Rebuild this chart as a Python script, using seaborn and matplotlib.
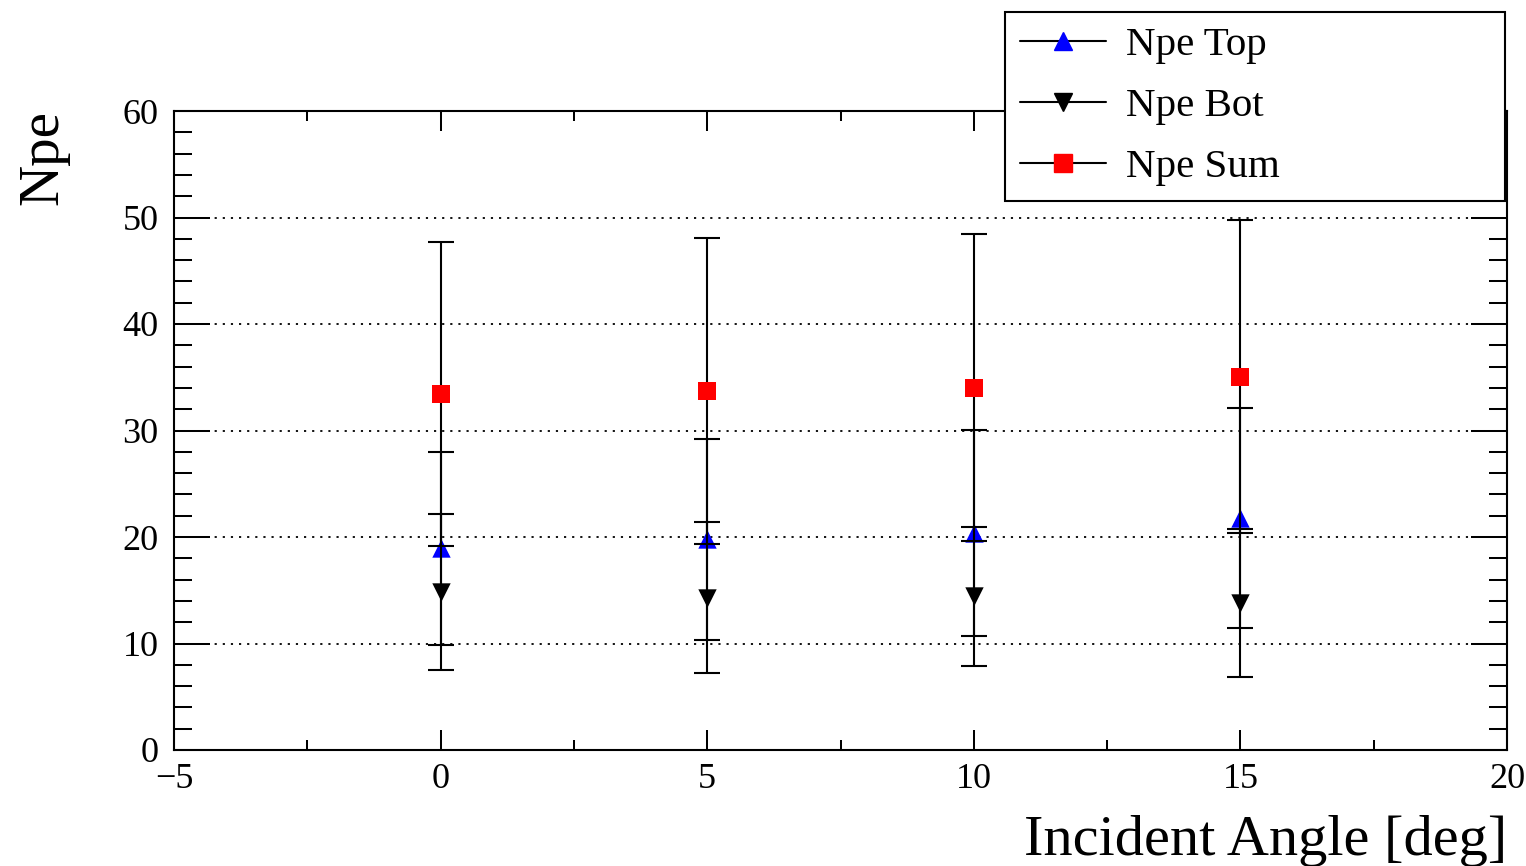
import numpy as np
import pandas as pd
import matplotlib
matplotlib.use("Agg")
import matplotlib.pyplot as plt
import seaborn as sns
from matplotlib.lines import Line2D
from matplotlib.ticker import MultipleLocator

# ---- data ----
angle = [0, 5, 10, 15]
npe_top = [18.93, 19.77, 20.39, 21.79]
npe_top_err = [9.07, 9.43, 9.66, 10.30]
npe_bot = [14.84, 14.31, 14.42, 13.80]
npe_bot_err = [7.33, 7.11, 6.50, 6.92]
npe_sum = [33.43, 33.71, 34.02, 35.06]
npe_sum_err = [14.25, 14.34, 14.40, 14.72]
series_names = ["Npe Top", "Npe Bot", "Npe Sum"]
x_ticks = [-5, 0, 5, 10, 15, 20]
x_tick_labels = ["\u22125", "0", "5", "10", "15", "20"]
y_ticks = [0, 10, 20, 30, 40, 50, 60]
y_tick_labels = ["0", "10", "20", "30", "40", "50", "60"]

sns.set_theme(style="ticks")
plt.rcParams["font.family"] = ["Liberation Serif", "DejaVu Serif"]
plt.rcParams["mathtext.fontset"] = "stix"
for k in ["text.color", "axes.labelcolor", "xtick.color", "ytick.color", "axes.edgecolor"]:
    plt.rcParams[k] = "black"

TICK_FS = 26

W, H = 1526, 866
fig = plt.figure(figsize=(W / 100, H / 100), dpi=100)
fig.patch.set_facecolor("white")
ax = fig.add_axes([174 / W, 1 - 750 / H, (1507 - 174) / W, (750 - 111) / H])
ax.set_facecolor("white")

series = [
    (series_names[0], npe_top, npe_top_err, "^", "#0000ff", 175),
    (series_names[1], npe_bot, npe_bot_err, "v", "black", 175),
    (series_names[2], npe_sum, npe_sum_err, "s", "#ff0000", 180),
]

lw = 1.5
z = 3
for name, vals, errs, mk, col, s in series:
    ax.errorbar(angle, vals, yerr=errs, fmt="none", ecolor="black",
                elinewidth=lw, capsize=9.7, capthick=lw, zorder=z)
    df = pd.DataFrame({"angle": angle, "npe": vals})
    sns.scatterplot(data=df, x="angle", y="npe", marker=mk, color=col,
                    s=s, linewidth=0, ax=ax, zorder=z + 0.5, legend=False)
    z += 1

ax.set_xlim(-5, 20)
ax.set_ylim(0, 60)
ax.set_xticks(x_ticks)
ax.set_yticks(y_ticks)
ax.set_xticklabels(x_tick_labels, fontsize=TICK_FS, color="black")
ax.set_yticklabels(y_tick_labels, fontsize=TICK_FS, color="black")
ax.xaxis.set_minor_locator(MultipleLocator(2.5))
ax.yaxis.set_minor_locator(MultipleLocator(2))
ax.set_xlabel("")
ax.set_ylabel("")

ax.yaxis.grid(True, which="major", linestyle=(0, (1.2, 3.3)), color="black", linewidth=1.3)
ax.xaxis.grid(False)
ax.set_axisbelow(True)

for sp in ax.spines.values():
    sp.set_visible(True)
    sp.set_color("black")
    sp.set_linewidth(1.5)

ax.tick_params(axis="both", which="both", direction="in", colors="black",
               width=1.45, top=True, right=True)
ax.tick_params(axis="y", which="major", length=26, pad=11)
ax.tick_params(axis="y", which="minor", length=13)
ax.tick_params(axis="x", which="major", length=14.4, pad=9)
ax.tick_params(axis="x", which="minor", length=7.2)

fig.text(1507 / W, 1 - 855 / H, "Incident Angle [deg]", ha="right", va="baseline",
         fontsize=42, color="black")
fig.text(43 / W, 1 - 110 / H, "Npe", rotation=90, ha="center", va="top",
         fontsize=41, color="black")

handles = [Line2D([0], [0], color="black", lw=1.5, marker=mk, markersize=np.sqrt(s) * 0.95,
                  markerfacecolor=col, markeredgecolor=col)
           for name, vals, errs, mk, col, s in series]
x0, x1 = 1005 / W, 1505 / W
y0, y1 = 1 - 198 / H, 1 - 12 / H
leg = fig.legend(handles, series_names, loc="upper left",
                 bbox_to_anchor=(x0, y0, x1 - x0, y1 - y0), mode="expand",
                 bbox_transform=fig.transFigure, borderaxespad=0,
                 fontsize=29.5, frameon=True, fancybox=False, shadow=False,
                 handlelength=2.1, handletextpad=0.5, labelspacing=0.57,
                 borderpad=0.36)
for t in leg.get_texts():
    t.set_color("black")
leg.get_frame().set_edgecolor("black")
leg.get_frame().set_linewidth(1.5)
leg.get_frame().set_facecolor("white")
leg.get_frame().set_alpha(1)
leg.set_zorder(10)

fig.savefig("out.png", dpi=100, facecolor="white")
